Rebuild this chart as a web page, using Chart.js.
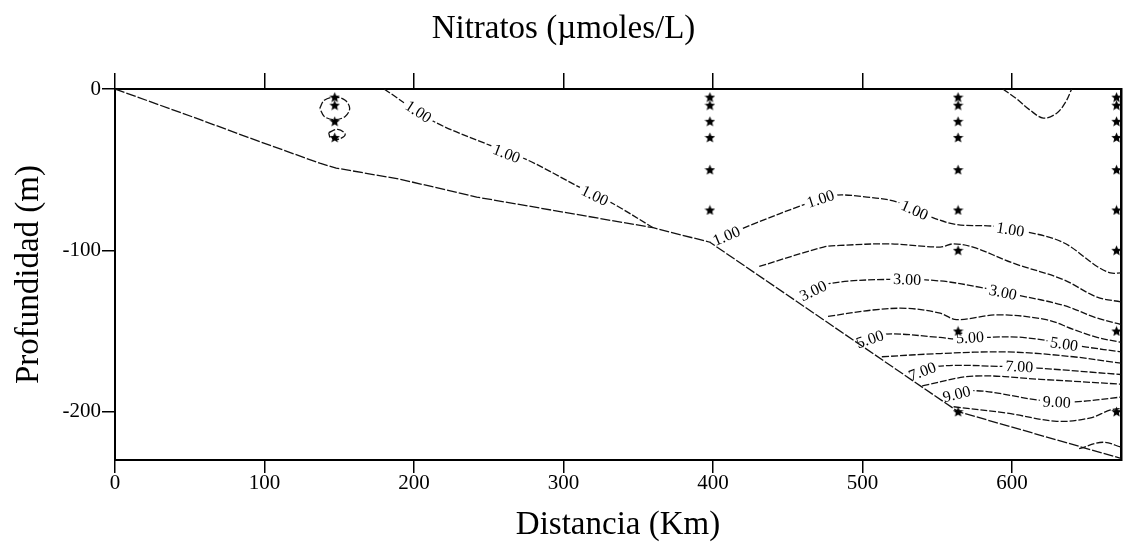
<!DOCTYPE html>
<html><head><meta charset="utf-8">
<script src="https://cdn.jsdelivr.net/npm/chart.js@4.4.1/dist/chart.umd.min.js"></script>
<style>html,body{margin:0;padding:0;background:#fff;}</style>
</head><body>
<canvas id="c" width="1127" height="551"></canvas>
<script>
// ---- tick labels ----
const xTicks = [0, 100, 200, 300, 400, 500, 600];
const yTicks = [-200, -100, 0];

// ---- sea floor (bottom profile) ----
const bottomX = [0, 57, 89, 137, 148, 191, 242, 360, 398, 564, 673];
const bottomY = [0, -19, -30, -46, -49, -56, -67, -86, -95, -200, -229];

// ---- sampling stations (km) and depths (m) ----
const stations = [147, 398, 564, 670];
const st1Depths = [5, 10, 20, 30];
const st2Depths = [5, 10, 20, 30, 50, 75];
const st3Depths = [5, 10, 20, 30, 50, 75, 100, 150, 200];
const st4Depths = [5, 10, 20, 30, 50, 75, 100, 150, 200];

// ---- contour isolines (x km, y m) ----
const c1aX = [180, 213, 251, 276, 311, 333, 360];
const c1aY = [0, -20, -35, -44, -61, -71, -86];
const c1aLab = [[203, -14], [262, -40], [321, -66]];

const c1bX = [594, 603, 612, 621, 630, 636, 640];
const c1bY = [0, -6, -13, -18, -15, -8, 0];

const c1cX = [398, 429, 460, 480, 503, 523, 545, 563, 587, 607, 634, 657, 666, 673];
const c1cY = [-95, -83, -72, -66, -67, -70, -79, -84, -85, -88, -95, -110, -114, -114];
const c1cLab = [[409, -91], [472, -68], [535, -75], [599, -87]];

const c2X = [431, 474, 485, 518, 552, 561, 574, 601, 634, 657, 673];
const c2Y = [-110, -98, -97, -96, -98, -96, -98, -108, -118, -129, -132];

const c3X = [458, 476, 518, 552, 579, 605, 634, 657, 673];
const c3Y = [-129, -121, -118, -119, -123, -128, -134, -142, -146];
const c3Lab = [[467, -125], [530, -118], [594, -126]];

const c4X = [477, 507, 530, 552, 563, 590, 623, 641, 657, 673];
const c4Y = [-141, -137, -136, -139, -143, -140, -143, -149, -154, -157];

const c5X = [498, 514, 552, 563, 583, 607, 650, 673];
const c5Y = [-157, -152, -154, -155, -154, -154, -160, -163];
const c5Lab = [[505, -155], [572, -154], [635, -158]];

const c6X = [513, 552, 597, 641, 673];
const c6Y = [-166, -164, -163, -166, -170];

const c7X = [533, 550, 594, 617, 673];
const c7Y = [-178, -172, -172, -173, -177];
const c7Lab = [[540, -175], [605, -172]];

const c8X = [540, 574, 619, 673];
const c8Y = [-184, -178, -180, -183];

const c9X = [553, 574, 619, 641, 673];
const c9Y = [-192, -187, -193, -194, -191];
const c9Lab = [[563, -189], [630, -194]];

const c10X = [561, 597, 630, 652, 666, 673];
const c10Y = [-197, -201, -206, -204, -199, -198];

const c11X = [645, 661, 673];
const c11Y = [-223, -219, -222];

const loopAX = [137, 140, 147, 154, 157, 154, 147, 140, 137];
const loopAY = [-12, -7, -5, -7, -12, -17, -19, -17, -12];
const loopBX = [143, 149, 154, 150, 144, 143];
const loopBY = [-27, -25, -28, -31, -30, -27];

// ---- helpers ----
function pts(xs, ys) { return xs.map((x, i) => ({ x: x, y: ys[i] })); }
function stationPts() {
  const all = [];
  [st1Depths, st2Depths, st3Depths, st4Depths].forEach((d, k) => {
    d.forEach(v => all.push({ x: stations[k], y: -v }));
  });
  return all;
}
function makeStar(size) {
  const c = document.createElement('canvas');
  c.width = size; c.height = size;
  const g = c.getContext('2d');
  g.fillStyle = '#000';
  g.beginPath();
  const cx = size / 2, cy = size / 2 + 0.5, R = size / 2, r = R * 0.45;
  for (let i = 0; i < 10; i++) {
    const a = -Math.PI / 2 + i * Math.PI / 5;
    const rr = i % 2 ? r : R;
    g.lineTo(cx + rr * Math.cos(a), cy + rr * Math.sin(a));
  }
  g.closePath(); g.fill();
  return c;
}
const starImg = makeStar(11);

function contour(xs, ys, text, labs) {
  return {
    data: pts(xs, ys), showLine: true, borderColor: '#111', borderWidth: 1.3,
    borderDash: [7, 2], pointRadius: 0, tension: 0.35, fill: false,
    levelText: text, labelPts: labs || null
  };
}

const serif = '"Liberation Serif", "Times New Roman", serif';

// Contour labels drawn right after each contour line (stars, drawn last, stay on top)
const contourLabels = {
  id: 'contourLabels',
  afterDatasetDraw(chart, args) {
    const ds = chart.data.datasets[args.index];
    if (!ds || !ds.labelPts) return;
    const ctx = chart.ctx, sx = chart.scales.x, sy = chart.scales.y;
    ctx.save();
    ctx.font = '16px ' + serif;
    ctx.textAlign = 'center';
    ctx.textBaseline = 'middle';
    const P = ds.data.map(p => [sx.getPixelForValue(p.x), sy.getPixelForValue(p.y)]);
    ds.labelPts.forEach(lp => {
      const px = sx.getPixelForValue(lp[0]), py = sy.getPixelForValue(lp[1]);
      let best = Infinity, ang = 0;
      for (let i = 0; i < P.length - 1; i++) {
        const ax = P[i][0], ay = P[i][1], bx = P[i + 1][0], by = P[i + 1][1];
        const dx = bx - ax, dy = by - ay, L = dx * dx + dy * dy || 1;
        let t = ((px - ax) * dx + (py - ay) * dy) / L; t = Math.max(0, Math.min(1, t));
        const qx = ax + t * dx - px, qy = ay + t * dy - py, d = qx * qx + qy * qy;
        if (d < best) { best = d; ang = Math.atan2(dy, dx); }
      }
      if (ang > Math.PI / 2) ang -= Math.PI;
      if (ang < -Math.PI / 2) ang += Math.PI;
      const w = ctx.measureText(ds.levelText).width;
      ctx.save();
      ctx.translate(px, py);
      ctx.rotate(ang);
      ctx.fillStyle = '#fff';
      ctx.fillRect(-w / 2 - 3, -7, w + 6, 14);
      ctx.fillStyle = '#000';
      ctx.fillText(ds.levelText, 0, 1);
      ctx.restore();
    });
    ctx.restore();
  }
};

const datasets = [
  { label: 'Estaciones', data: stationPts(), showLine: false, pointStyle: starImg, pointRadius: 5, clip: false },
  { label: 'Fondo', data: pts(bottomX, bottomY), showLine: true, borderColor: '#111', borderWidth: 1.3,
    borderDash: [10, 2], pointRadius: 0, tension: 0, fill: false },
  contour(c1aX, c1aY, '1.00', c1aLab),
  contour(c1bX, c1bY, '1.00'),
  contour(c1cX, c1cY, '1.00', c1cLab),
  contour(c2X, c2Y, '2.00'),
  contour(c3X, c3Y, '3.00', c3Lab),
  contour(c4X, c4Y, '4.00'),
  contour(c5X, c5Y, '5.00', c5Lab),
  contour(c6X, c6Y, '6.00'),
  contour(c7X, c7Y, '7.00', c7Lab),
  contour(c8X, c8Y, '8.00'),
  contour(c9X, c9Y, '9.00', c9Lab),
  contour(c10X, c10Y, '10.00'),
  contour(c11X, c11Y, '11.00'),
  contour(loopAX, loopAY, '1.00'),
  contour(loopBX, loopBY, '1.00')
];

const tickFont = { family: serif, size: 21 };
const titleFont = { family: serif, size: 33, weight: 'normal' };

new Chart(document.getElementById('c'), {
  type: 'scatter',
  data: { datasets: datasets },
  options: {
    responsive: false, animation: false, devicePixelRatio: 1,
    layout: { padding: 0 },
    plugins: {
      legend: { display: false }, tooltip: { enabled: false },
      title: { display: true, text: 'Nitratos (µmoles/L)', color: '#000', font: titleFont, padding: { top: 10, bottom: 0 } }
    },
    scales: {
      x: {
        type: 'linear', position: 'bottom', min: 0, max: 673,
        afterBuildTicks: s => { s.ticks = xTicks.map(v => ({ value: v })); },
        ticks: { font: tickFont, color: '#000', padding: -2, maxRotation: 0, autoSkip: false },
        grid: { drawOnChartArea: false, drawTicks: true, tickLength: 13, color: '#000', lineWidth: 1.5 },
        border: { display: true, color: '#000', width: 2 },
        title: { display: true, text: 'Distancia (Km)', color: '#000', font: titleFont, padding: { top: 0, bottom: 6 } },
        afterFit: s => { s.height = 91; }
      },
      xTop: {
        type: 'linear', position: 'top', min: 0, max: 673,
        afterBuildTicks: s => { s.ticks = xTicks.map(v => ({ value: v })); },
        ticks: { display: false },
        grid: { drawOnChartArea: false, drawTicks: true, tickLength: 16, color: '#000', lineWidth: 1.5 },
        border: { display: true, color: '#000', width: 2 },
        afterFit: s => { const tb = s.chart.titleBlock; s.height = 89 - (tb ? tb.height : 49.6); }
      },
      y: {
        type: 'linear', position: 'left', min: -230, max: 0,
        afterBuildTicks: s => { s.ticks = yTicks.map(v => ({ value: v })); },
        ticks: { font: tickFont, color: '#000', padding: 1 },
        grid: { drawOnChartArea: false, drawTicks: true, tickLength: 13, color: '#000', lineWidth: 1.5 },
        border: { display: true, color: '#000', width: 2 },
        title: { display: true, text: 'Profundidad (m)', color: '#000', font: titleFont, padding: { top: 10, bottom: 0 } },
        afterFit: s => { s.width = 115; }
      },
      yRight: {
        type: 'linear', position: 'right', min: -230, max: 0,
        ticks: { display: false },
        grid: { display: false },
        border: { display: true, color: '#000', width: 2.5 },
        afterFit: s => { s.width = 6; }
      }
    }
  },
  plugins: [contourLabels]
});
</script>
</body></html>
